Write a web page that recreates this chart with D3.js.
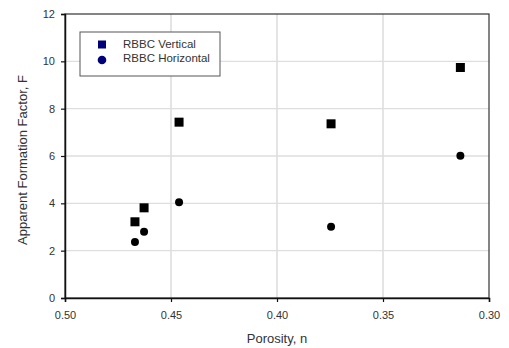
<!DOCTYPE html>
<html>
<head>
<meta charset="utf-8">
<script src="https://cdn.jsdelivr.net/npm/d3@7"></script>
<style>
  body { margin: 0; background: #fff; }
  text { font-family: "Liberation Sans", Arial, sans-serif; fill: #333; }
</style>
</head>
<body>
<svg class="chart"></svg>
<script>
// data
var vertPorosity = [0.467, 0.4627, 0.4462, 0.3745, 0.3135];
var vertF = [3.22, 3.81, 7.43, 7.36, 9.74];
var horizPorosity = [0.467, 0.4627, 0.4462, 0.3745, 0.3135];
var horizF = [2.37, 2.80, 4.05, 3.01, 6.01];
var xTicks = [0.50, 0.45, 0.40, 0.35, 0.30];
var yTicks = [0, 2, 4, 6, 8, 10, 12];
var seriesNames = ["RBBC Vertical", "RBBC Horizontal"];

var W = 509, H = 348;
var margin = {top: 14, right: 20, bottom: 50, left: 65};
var width = W - margin.left - margin.right,
    height = H - margin.top - margin.bottom;

var svg = d3.select(".chart").attr("width", W).attr("height", H);
var g = svg.append("g").attr("transform", "translate(" + margin.left + "," + margin.top + ")");

var x = d3.scaleLinear().domain([0.50, 0.30]).range([0, width]);
var y = d3.scaleLinear().domain([0, 12]).range([height, 0]);

// gridlines
g.append("g").selectAll("line").data(xTicks.slice(1, -1)).enter().append("line")
    .attr("x1", function(d){ return x(d); }).attr("x2", function(d){ return x(d); })
    .attr("y1", 0).attr("y2", height)
    .attr("stroke", "#d6d6d6").attr("stroke-width", 1.3);
g.append("g").selectAll("line").data(yTicks.slice(1, -1)).enter().append("line")
    .attr("x1", 0).attr("x2", width)
    .attr("y1", function(d){ return y(d); }).attr("y2", function(d){ return y(d); })
    .attr("stroke", "#dedede").attr("stroke-width", 1.3);

// frame
g.append("rect").attr("width", width).attr("height", height)
    .attr("fill", "none").attr("stroke", "#333").attr("stroke-width", 1.2);

// axes
var xAxis = g.append("g").attr("transform", "translate(0," + height + ")")
    .call(d3.axisBottom(x).tickValues(xTicks).tickFormat(d3.format(".2f")).tickSize(4).tickPadding(9));
var yAxis = g.append("g")
    .call(d3.axisLeft(y).tickValues(yTicks).tickSize(4).tickPadding(6));
[xAxis, yAxis].forEach(function(a){
  a.select(".domain").attr("stroke", "#111").attr("stroke-width", 1.5);
  a.selectAll(".tick line").attr("stroke", "#111").attr("stroke-width", 1.2);
  a.selectAll(".tick text").style("font-size", "11px").attr("fill", "#444");
});

// axis titles
svg.append("text")
    .attr("x", margin.left + width / 2).attr("y", 343)
    .attr("text-anchor", "middle").style("font-size", "13px")
    .text("Porosity, n");
svg.append("text")
    .attr("transform", "translate(27," + (margin.top + height / 2 + 4) + ") rotate(-90)")
    .attr("text-anchor", "middle").style("font-size", "13px")
    .text("Apparent Formation Factor, F");

// points
var vert = vertPorosity.map(function(p, i){ return {n: p, F: vertF[i]}; });
var horiz = horizPorosity.map(function(p, i){ return {n: p, F: horizF[i]}; });

g.selectAll(".sq").data(vert).enter().append("rect")
    .attr("class", "sq")
    .attr("x", function(d){ return x(d.n) - 4.5; })
    .attr("y", function(d){ return y(d.F) - 4.5; })
    .attr("width", 9).attr("height", 9)
    .attr("fill", "#000");

g.selectAll(".ci").data(horiz).enter().append("circle")
    .attr("class", "ci")
    .attr("cx", function(d){ return x(d.n); })
    .attr("cy", function(d){ return y(d.F); })
    .attr("r", 4)
    .attr("fill", "#000");

// legend
var leg = svg.append("g").attr("transform", "translate(80,32)");
leg.append("rect").attr("width", 140).attr("height", 44)
    .attr("fill", "#fff").attr("stroke", "#555").attr("stroke-width", 1);
leg.append("rect").attr("x", 18).attr("y", 8.5).attr("width", 8).attr("height", 8).attr("fill", "#00007a");
leg.append("circle").attr("cx", 22).attr("cy", 28).attr("r", 4.3).attr("fill", "#00007a");
leg.selectAll(".lt").data(seriesNames).enter().append("text")
    .attr("class", "lt")
    .attr("x", 43).attr("y", function(d, i){ return 16 + i * 14; })
    .style("font-size", "11.5px").attr("fill", "#333")
    .text(function(d){ return d; });
</script>
</body>
</html>
